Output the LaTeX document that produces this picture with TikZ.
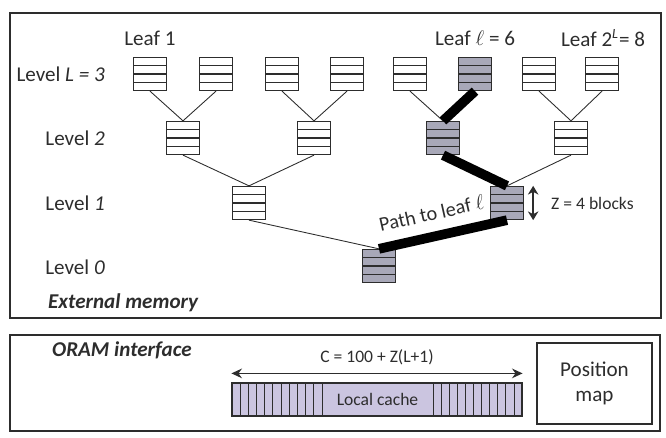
\documentclass[tikz,border=0pt]{standalone}
\usepackage{fontspec}
\setmainfont{Carlito}
\usetikzlibrary{arrows.meta}

\definecolor{pathgray}{RGB}{168,168,184}
\definecolor{cachefill}{RGB}{203,197,224}
\definecolor{ink}{RGB}{45,45,45}

\tikzset{
  bucket/.style={draw=ink, line width=0.75pt, fill=white, inner sep=0pt,
    minimum width=0.66cm, minimum height=0.66cm,
    path picture={\foreach \k in {1,2,3}
      \draw[ink, line width=0.6pt] ([yshift=\k*0.165cm]path picture bounding box.south west)
        -- ([yshift=\k*0.165cm]path picture bounding box.south east);}},
  onpath/.style={bucket, fill=pathgray},
  branch/.style={ink, line width=0.5pt},
  pathbranch/.style={black, line width=5.5pt},
  lbl/.style={text=ink, font=\fontsize{12}{14}\selectfont},
  small/.style={text=ink, font=\fontsize{10}{12}\selectfont},
  frame/.style={draw=ink, line width=0.8pt},
}

\begin{document}
\begin{tikzpicture}[x=0.02cm, y=-0.02cm]
% picture is laid out in pixels of the 666 x 438 sketch
\useasboundingbox (0,0) rectangle (666,438);

% the two frames
\draw[frame] (10,13) rectangle (661,318);
\draw[frame] (10,335) rectangle (660,431);

% tree levels, L = 3 down to 0
\foreach \name/\x/\s in {leafA/150/bucket, leafB/216/bucket, leafC/282/bucket, leafD/347/bucket,
                         leafE/410/bucket, leafF/475/onpath, leafG/539/bucket, leafH/602/bucket}
  \node[\s] (\name) at (\x,74) {};
\foreach \name/\x/\s in {twoA/183/bucket, twoB/314/bucket, twoC/443/onpath, twoD/571/bucket}
  \node[\s] (\name) at (\x,138) {};
\node[bucket] (oneA) at (249,203) {};
\node[onpath] (oneB) at (507,203) {};
\node[onpath] (root) at (379,266) {};

% thin branches
\draw[branch] (leafA.south) -- (twoA.north);
\draw[branch] (leafB.south) -- (twoA.north);
\draw[branch] (leafC.south) -- (twoB.north);
\draw[branch] (leafD.south) -- (twoB.north);
\draw[branch] (leafE.south) -- (twoC.north);
\draw[branch] (leafG.south) -- (twoD.north);
\draw[branch] (leafH.south) -- (twoD.north);
\draw[branch] (twoA.south) -- (oneA.north);
\draw[branch] (twoB.south) -- (oneA.north);
\draw[branch] (twoD.south) -- (oneB.north);
\draw[branch] (oneA.south) -- (root.north);

% path to leaf l
\draw[pathbranch] (leafF.south) -- (twoC.north);
\draw[pathbranch] (twoC.south) -- (oneB.north);
\draw[pathbranch] (oneB.south) -- (root.north)
  node[pos=0.55, sloped, above=3pt, lbl, font=\fontsize{11.5}{13}\selectfont] (pathlbl) {Path to leaf $\ell$};

% labels
\node[lbl] (leafone) at (150,38) {Leaf 1};
\node[lbl] (leafl) at (475,38) {Leaf $\ell$ = 6};
\node[lbl] (leaflast) at (603,38) {Leaf 2\textsuperscript{\textit{L}}= 8};
\node[lbl, anchor=east] (lvthree) at (111,74) {Level \textit{L = 3}};
\node[lbl, anchor=east] (lvtwo) at (111,138) {Level \textit{2}};
\node[lbl, anchor=east] (lvone) at (111,203) {Level \textit{1}};
\node[lbl, anchor=east] (lvzero) at (111,267) {Level \textit{0}};
\node[lbl, anchor=west, font=\fontsize{12}{14}\selectfont\bfseries\itshape] (extmem) at (42,303) {External memory};

% bucket size
\draw[ink, line width=0.8pt, {Stealth[length=5pt,width=6pt]}-{Stealth[length=5pt,width=6pt]}]
  ([xshift=0.18cm]oneB.north east) -- ([xshift=0.18cm]oneB.south east);
\node[small, anchor=west] (zlbl) at (545,203) {Z = 4 blocks};

% ORAM interface
\node[lbl, anchor=west, font=\fontsize{12}{14}\selectfont\bfseries\itshape] (oram) at (46,350) {ORAM interface};
\node[draw=ink, line width=0.7pt, fill=cachefill, minimum width=5.8cm, minimum height=0.66cm,
      inner sep=0pt] (cache) at (377,399.5) {};
\foreach \k in {1,...,11} \draw[ink, line width=0.5pt] ({232+8.18*\k},383) -- ({232+8.18*\k},416);
\foreach \k in {0,...,10} \draw[ink, line width=0.5pt] ({433+8.1*\k},383) -- ({433+8.1*\k},416);
\node[small] (cachelbl) at (377.5,399.5) {Local cache};
\draw[ink, line width=0.7pt, {Stealth[length=6pt,width=5.5pt]}-{Stealth[length=6pt,width=5.5pt]}]
  ([yshift=0.18cm]cache.north west) -- ([yshift=0.18cm]cache.north east)
  node[midway, above=1pt, small] (cform) {C = 100 + Z(L+1)};
\node[draw=ink, line width=0.7pt, minimum width=2.3cm, minimum height=1.62cm, align=center,
      lbl] (posmap) at (594.5,383.5) {Position\\map};
\end{tikzpicture}
\end{document}
